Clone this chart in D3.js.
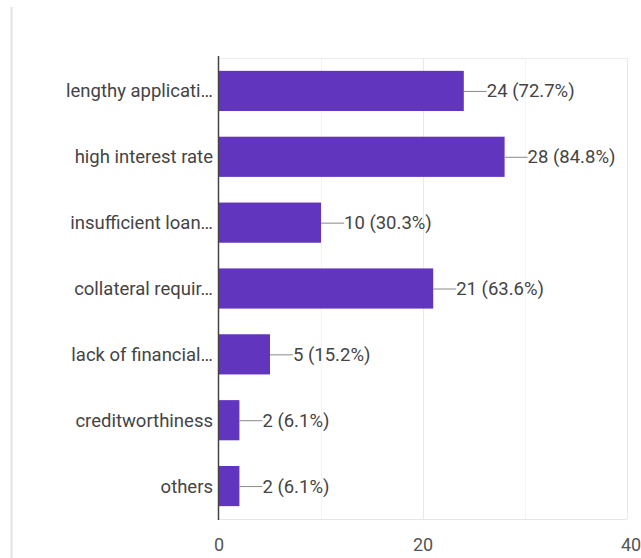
<!DOCTYPE html>
<html><head><meta charset="utf-8">
<script src="https://cdn.jsdelivr.net/npm/d3@7"></script>
<style>html,body{margin:0;padding:0;background:#fff;}svg{display:block;font-family:Roboto,"Noto Sans",sans-serif;}</style>
</head><body><svg id="c" width="641" height="558"></svg>
<script>
const categories = ["lengthy applicati\u2026","high interest rate","insufficient loan\u2026","collateral requir\u2026","lack of financial\u2026","creditworthiness","others"];
const counts = [24, 28, 10, 21, 5, 2, 2];
const percents = ["72.7%","84.8%","30.3%","63.6%","15.2%","6.1%","6.1%"];
const majorTicks = [0, 20, 40];
const minorTicks = [10, 30];

const svg = d3.select("#c");
const m = {left: 219, right: 627, top: 58, bottom: 519};
const x = d3.scaleLinear().domain([0, 40]).range([m.left, m.right]);
const y = d3.scaleBand().domain(categories).range([m.top, m.bottom]).paddingInner(0.39).paddingOuter(0.195);

// card border
svg.append("line").attr("x1", 11.5).attr("x2", 11.5).attr("y1", 7).attr("y2", 558)
  .attr("stroke", "#e3e3e3").attr("stroke-width", 2);

// gridlines
svg.append("g").selectAll("line").data(minorTicks).join("line")
  .attr("x1", d => x(d) + 0.5).attr("x2", d => x(d) + 0.5)
  .attr("y1", m.top).attr("y2", m.bottom).attr("stroke", "#f4f4f4");
svg.append("g").selectAll("line").data(majorTicks.slice(1)).join("line")
  .attr("x1", d => x(d) + 0.5).attr("x2", d => x(d) + 0.5)
  .attr("y1", m.top).attr("y2", m.bottom).attr("stroke", "#e8e8e8");
svg.append("line").attr("x1", m.left).attr("x2", m.right).attr("y1", m.top + 0.5).attr("y2", m.top + 0.5).attr("stroke", "#ececec");
svg.append("line").attr("x1", m.left).attr("x2", m.right).attr("y1", m.bottom + 0.5).attr("y2", m.bottom + 0.5).attr("stroke", "#e6e6e6");

// bars
svg.append("g").selectAll("rect").data(categories).join("rect")
  .attr("x", x(0)).attr("y", d => y(d))
  .attr("width", (d, i) => x(counts[i]) - x(0))
  .attr("height", y.bandwidth())
  .attr("fill", "#6135bd");

// vertical baseline
svg.append("line").attr("x1", m.left - 0.5).attr("x2", m.left - 0.5)
  .attr("y1", m.top - 2).attr("y2", m.bottom + 1).attr("stroke", "#444").attr("stroke-width", 1.5);

// category labels
svg.append("g").selectAll("text").data(categories).join("text")
  .attr("x", m.left - 6).attr("y", d => y(d) + y.bandwidth() / 2)
  .attr("dy", "0.35em").attr("text-anchor", "end")
  .attr("font-size", 18.5).attr("fill", "#444").text(d => d);

// leader lines + value labels
const vg = svg.append("g").selectAll("g").data(categories).join("g");
vg.append("line")
  .attr("x1", (d, i) => x(counts[i])).attr("x2", (d, i) => x(counts[i]) + 23)
  .attr("y1", d => y(d) + y.bandwidth() / 2 + 0.5).attr("y2", d => y(d) + y.bandwidth() / 2 + 0.5)
  .attr("stroke", "#8a8a8a");
vg.append("text")
  .attr("x", (d, i) => x(counts[i]) + 23).attr("y", d => y(d) + y.bandwidth() / 2)
  .attr("dy", "0.35em").attr("font-size", 18.5).attr("fill", "#444")
  .text((d, i) => counts[i] + " (" + percents[i] + ")");

// x tick labels
svg.append("g").selectAll("text").data(majorTicks).join("text")
  .attr("x", d => x(d) + (d === 40 ? 4 : 0)).attr("y", 545).attr("dy", "0.35em")
  .attr("text-anchor", "middle").attr("font-size", 18).attr("fill", "#555")
  .text(d => d);
</script></body></html>
